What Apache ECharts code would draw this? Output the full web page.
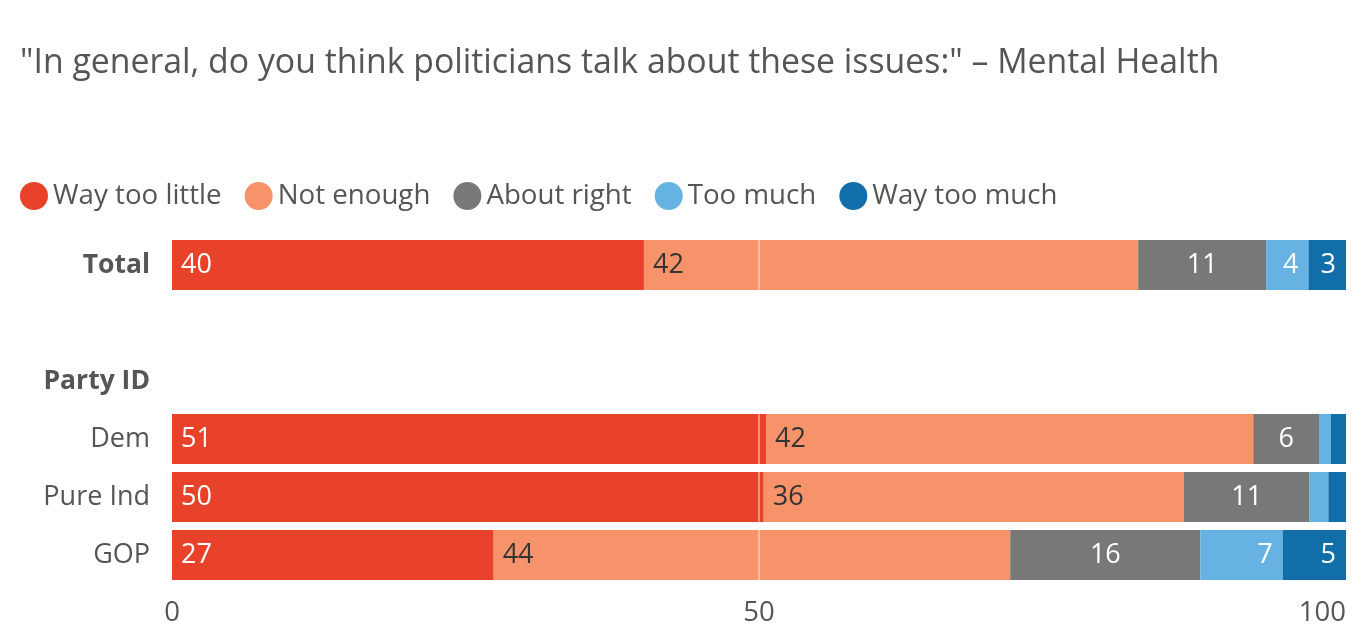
<!DOCTYPE html>
<html>
<head>
<meta charset="utf-8">
<script src="https://cdn.jsdelivr.net/npm/echarts@6/dist/echarts.min.js"></script>
<style>
html,body{margin:0;padding:0;background:#fff;}
#chart{width:1368px;height:642px;}
</style>
</head>
<body>
<div id="chart"></div>
<script>
var titleText = '"In general, do you think politicians talk about these issues:" \u2013 Mental Health';
var categories = ['Total', '', 'Party ID', 'Dem', 'Pure Ind', 'GOP'];
var seriesNames = ['Way too little', 'Not enough', 'About right', 'Too much', 'Way too much'];
var wayTooLittle = [40.2, null, null, 50.6, 50.4, 27.4];
var notEnough = [42.1, null, null, 41.5, 35.8, 44.0];
var aboutRight = [10.9, null, null, 5.6, 10.7, 16.2];
var tooMuch = [3.6, null, null, 1.0, 1.6, 7.0];
var wayTooMuch = [3.2, null, null, 1.3, 1.5, 5.4];
var xTicks = [0, 50, 100];

var FONT = 'Open Sans';
var colors = ['#E9422B', '#F7936B', '#787878', '#66B3E3', '#116EA8'];
var labelColors = ['#ffffff', '#333333', '#ffffff', '#ffffff', '#ffffff'];
var positions = ['insideLeft', 'insideLeft', 'inside', 'insideRight', 'insideRight'];
var distances = [9, 9, 5, 10, 10];
var values = [wayTooLittle, notEnough, aboutRight, tooMuch, wayTooMuch];

var series = values.map(function (vals, i) {
  return {
    name: seriesNames[i],
    type: 'bar',
    stack: 'total',
    barWidth: 50,
    data: vals,
    itemStyle: { color: colors[i] },
    label: {
      show: true,
      position: positions[i],
      distance: distances[i],
      color: labelColors[i],
      fontFamily: FONT,
      fontSize: 27,
      formatter: function (p) {
        if (p.value == null || p.value < 3) return '';
        return Math.round(p.value);
      }
    },
    emphasis: { disabled: true }
  };
});

series.push({
  type: 'line',
  data: [],
  silent: true,
  z: 10,
  markLine: {
    silent: true,
    symbol: 'none',
    label: { show: false },
    lineStyle: { color: 'rgba(255,255,255,0.55)', width: 1.5, type: 'solid' },
    data: [{ xAxis: 50 }],
    animation: false
  }
});

var chart = echarts.init(document.getElementById('chart'));
chart.setOption({
  animation: false,
  title: {
    text: titleText,
    left: 15,
    top: 41,
    textStyle: { fontFamily: FONT, fontSize: 33.8, fontWeight: 'normal', color: '#555555' }
  },
  legend: {
    data: seriesNames,
    left: 15,
    top: 177,
    icon: 'circle',
    itemWidth: 28,
    itemHeight: 28,
    itemGap: 23,
    selectedMode: false,
    textStyle: { fontFamily: FONT, fontSize: 27.7, color: '#555555' }
  },
  grid: { left: 172, right: 22, top: 236, bottom: 58, containLabel: false },
  xAxis: {
    type: 'value',
    min: xTicks[0],
    max: xTicks[xTicks.length - 1],
    interval: 50,
    axisLine: { show: false },
    axisTick: { show: false },
    splitLine: { show: false },
    axisLabel: {
      fontFamily: FONT, fontSize: 27.5, color: '#555555', margin: 15,
      alignMaxLabel: 'right'
    }
  },
  yAxis: {
    type: 'category',
    inverse: true,
    data: categories,
    axisLine: { show: false },
    axisTick: { show: false },
    axisLabel: {
      margin: 22,
      fontFamily: FONT,
      fontSize: 27,
      color: '#555555',
      formatter: function (v) {
        if (v === 'Total' || v === 'Party ID') return '{b|' + v + '}';
        return v;
      },
      rich: {
        b: { fontFamily: FONT, fontSize: 26.5, fontWeight: 'bold', color: '#555555' }
      }
    }
  },
  series: series
});
</script>
</body>
</html>
